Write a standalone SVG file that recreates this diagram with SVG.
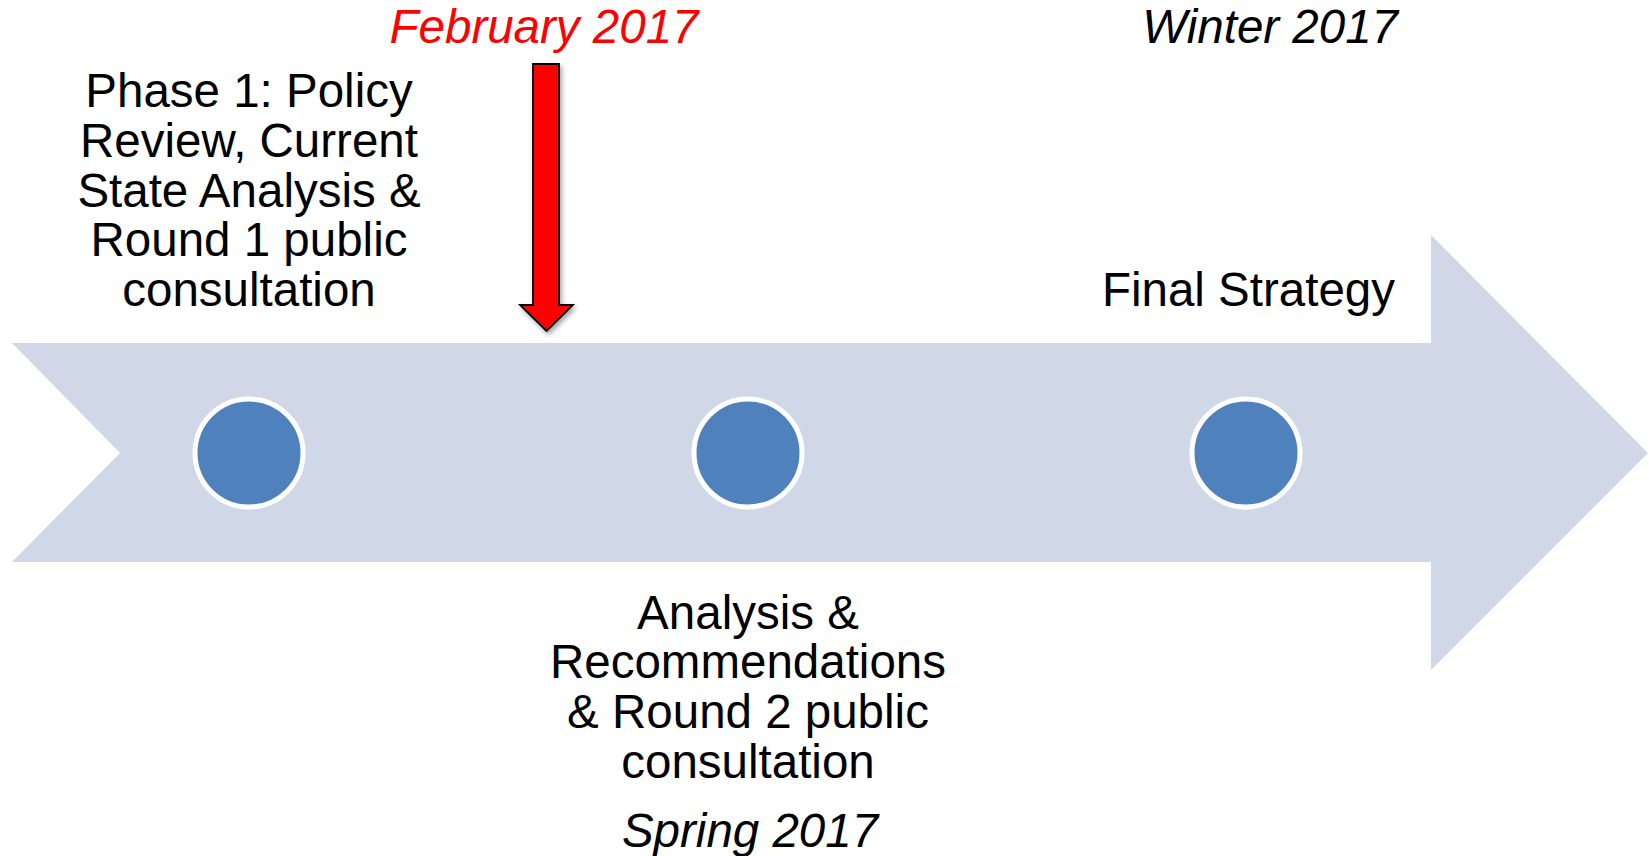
<svg xmlns="http://www.w3.org/2000/svg" width="1649" height="856" viewBox="0 0 1649 856">
<style>
.lbl{font-family:"Liberation Sans",Arial,sans-serif;font-size:47.5px;fill:#000}
.it{font-style:italic}
.mid{text-anchor:middle}
.end{text-anchor:end}
.dot{fill:#4F81BD;stroke:#FFFFFF;stroke-width:5}
</style>
<defs>
<filter id="sh" x="-30%" y="-10%" width="160%" height="130%">
<feDropShadow dx="2" dy="3" stdDeviation="2.5" flood-color="#000" flood-opacity="0.35"/>
</filter>
</defs>
<rect width="1649" height="856" fill="#FFFFFF"/>
<g id="timeline">
<polygon points="12,343 1431,343 1431,235 1648,453 1431,670 1431,562 12,562 120,453" fill="#D0D8E8"/>
</g>
<g id="node1">
<circle class="dot" cx="249" cy="453" r="54"/>
<text class="lbl mid" x="249"><tspan x="249" y="107">Phase 1: Policy</tspan><tspan x="249" y="157">Review, Current</tspan><tspan x="249" y="207">State Analysis &amp;</tspan><tspan x="249" y="256">Round 1 public</tspan><tspan x="249" y="306">consultation</tspan></text>
</g>
<g id="node2">
<circle class="dot" cx="748" cy="453" r="54"/>
<text class="lbl mid"><tspan x="748" y="629">Analysis &amp;</tspan><tspan x="748" y="678">Recommendations</tspan><tspan x="748" y="728">&amp; Round 2 public</tspan><tspan x="748" y="778">consultation</tspan></text>
<text class="lbl mid it" x="750" y="847">Spring 2017</text>
</g>
<g id="node3">
<circle class="dot" cx="1246" cy="453" r="54"/>
<text class="lbl end" x="1395" y="306">Final Strategy</text>
<text class="lbl end it" x="1398" y="43">Winter 2017</text>
</g>
<g id="marker-feb">
<text class="lbl mid it" x="544" y="43" style="fill:#FF0000">February 2017</text>
</g>
<g id="connectors">
<polygon points="533,64 559,64 559,305 573,305 546.5,331 520,305 533,305" fill="#FF0000" stroke="#000" stroke-width="1.8" stroke-linejoin="miter" filter="url(#sh)"/>
</g>
<text x="1641" y="872" font-family="Liberation Sans,Arial,sans-serif" font-size="22" fill="#888">1</text>
</svg>
